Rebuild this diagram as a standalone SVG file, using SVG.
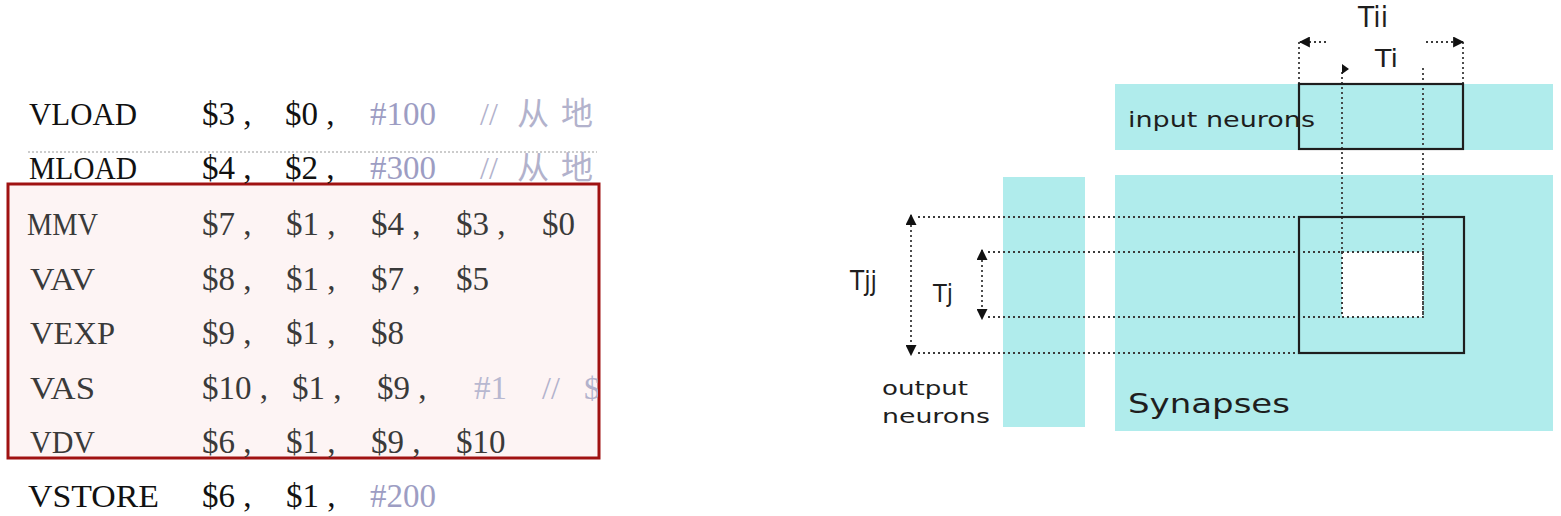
<svg xmlns="http://www.w3.org/2000/svg" width="1561" height="516" viewBox="0 0 1561 516">
<style>
.mn{font-family:"Liberation Serif",serif;font-size:32px;fill:#111}
.mnb{font-family:"Liberation Serif",serif;font-size:32px;fill:#3a3a3a}
.op{font-family:"Liberation Serif",serif;font-size:33px;fill:#111}
.opb{font-family:"Liberation Serif",serif;font-size:33px;fill:#3a3a3a}
.imm{font-family:"Liberation Serif",serif;font-size:33px;fill:#9d9dc3}
.cm{font-family:"Liberation Serif","Noto Sans CJK SC",serif;font-size:32px;fill:#b2b2cc}
.lbl{font-family:"DejaVu Sans",sans-serif;fill:#1e1e1e}
.band{fill:#b0ecec}
.dot{stroke:#3a3a3a;stroke-width:1.8;stroke-dasharray:2 3;fill:none}
.box{stroke:#1e1e1e;stroke-width:2.2;fill:none}
</style>
<defs>
<marker id="ah" viewBox="0 0 10 10" refX="9" refY="5" markerWidth="11" markerHeight="11" markerUnits="userSpaceOnUse" orient="auto-start-reverse"><path d="M0,0 L10,5 L0,10 z" fill="#111"/></marker>
<clipPath id="clipL"><rect x="0" y="0" width="598" height="516"/></clipPath>
</defs>

<rect id="highlight" x="8" y="184" width="591" height="274" fill="#fdf4f4" stroke="#a01212" stroke-width="3"/>
<g id="code" clip-path="url(#clipL)">
<line x1="28" y1="152" x2="597" y2="152" stroke="#999" stroke-width="1" stroke-dasharray="2 2"/>

<g id="row-vload">
<text class="mn" x="29" y="125" textLength="108" lengthAdjust="spacingAndGlyphs">VLOAD</text>
<text class="op" y="125"><tspan x="202">$3 ,</tspan><tspan x="285">$0 ,</tspan></text>
<text class="imm" x="370" y="125">#100</text>
<text class="cm" y="125"><tspan x="480">//</tspan><tspan x="517">从</tspan><tspan x="561">地</tspan></text>
</g>
<g id="row-mload">
<text class="mn" x="29" y="179" textLength="108" lengthAdjust="spacingAndGlyphs">MLOAD</text>
<text class="op" y="179"><tspan x="202">$4 ,</tspan><tspan x="285">$2 ,</tspan></text>
<text class="imm" x="370" y="179">#300</text>
<text class="cm" y="179"><tspan x="480">//</tspan><tspan x="517">从</tspan><tspan x="561">地</tspan></text>
</g>
<g id="row-mmv">
<text class="mnb" x="27" y="235" textLength="71" lengthAdjust="spacingAndGlyphs">MMV</text>
<text class="opb" y="235"><tspan x="202">$7 ,</tspan><tspan x="286">$1 ,</tspan><tspan x="371">$4 ,</tspan><tspan x="456">$3 ,</tspan><tspan x="542">$0</tspan></text>
</g>
<g id="row-vav">
<text class="mnb" x="30" y="290" textLength="65" lengthAdjust="spacingAndGlyphs">VAV</text>
<text class="opb" y="290"><tspan x="202">$8 ,</tspan><tspan x="286">$1 ,</tspan><tspan x="371">$7 ,</tspan><tspan x="456">$5</tspan></text>
</g>
<g id="row-vexp">
<text class="mnb" x="30" y="344" textLength="85" lengthAdjust="spacingAndGlyphs">VEXP</text>
<text class="opb" y="344"><tspan x="202">$9 ,</tspan><tspan x="286">$1 ,</tspan><tspan x="371">$8</tspan></text>
</g>
<g id="row-vas">
<text class="mnb" x="30" y="399" textLength="65" lengthAdjust="spacingAndGlyphs">VAS</text>
<text class="opb" y="399"><tspan x="202">$10 ,</tspan><tspan x="292">$1 ,</tspan><tspan x="377">$9 ,</tspan></text>
<text class="imm" x="474" y="399" style="fill:#b8b8d0">#1</text>
<text class="cm" y="399"><tspan x="542">//</tspan><tspan x="584">$</tspan></text>
</g>
<g id="row-vdv">
<text class="mnb" x="30" y="453" textLength="65" lengthAdjust="spacingAndGlyphs">VDV</text>
<text class="opb" y="453"><tspan x="202">$6 ,</tspan><tspan x="286">$1 ,</tspan><tspan x="371">$9 ,</tspan><tspan x="456">$10</tspan></text>
</g>
<g id="row-vstore">
<text class="mn" x="28" y="507" textLength="131" lengthAdjust="spacingAndGlyphs">VSTORE</text>
<text class="op" y="507"><tspan x="202">$6 ,</tspan><tspan x="286">$1 ,</tspan></text>
<text class="imm" x="370" y="507">#200</text>
</g>
</g>

<g id="input-neurons">
<rect class="band" x="1115" y="84" width="438" height="66"/>
<text class="lbl" x="1128" y="127" font-size="22" textLength="187" lengthAdjust="spacingAndGlyphs">input neurons</text>
</g>
<g id="output-neurons">
<rect class="band" x="1003" y="177" width="82" height="250"/>
<text class="lbl" x="882" y="395" font-size="20" textLength="86" lengthAdjust="spacingAndGlyphs">output</text>
<text class="lbl" x="882" y="423" font-size="20" textLength="108" lengthAdjust="spacingAndGlyphs">neurons</text>
</g>
<g id="synapses">
<rect class="band" x="1115" y="175" width="438" height="256"/>
<text class="lbl" x="1128" y="413" font-size="27" textLength="162" lengthAdjust="spacingAndGlyphs">Synapses</text>
</g>
<g id="tile-synapse">
<rect x="1342" y="252" width="81" height="65" fill="#fff"/>
</g>

<g id="connectors">
<line class="dot" x1="1342" y1="72" x2="1342" y2="317"/>
<line class="dot" x1="1423" y1="68" x2="1423" y2="317"/>
<rect class="dot" x="1342" y="252" width="81" height="65"/>
<line class="dot" x1="918" y1="217" x2="1298" y2="217"/>
<line class="dot" x1="918" y1="353" x2="1298" y2="353"/>
<line class="dot" x1="988" y1="252" x2="1342" y2="252"/>
<line class="dot" x1="988" y1="317" x2="1342" y2="317"/>
<line class="dot" x1="1299" y1="42" x2="1299" y2="84"/>
<line class="dot" x1="1463" y1="42" x2="1463" y2="84"/>
<line class="dot" x1="1326" y1="42" x2="1300" y2="42" marker-end="url(#ah)"/>
<line class="dot" x1="1426" y1="42" x2="1463" y2="42" marker-end="url(#ah)"/>
<path d="M1342,64 L1349,69 L1342,74 z" fill="#111"/>
<line class="dot" x1="911" y1="215" x2="911" y2="355" marker-start="url(#ah)" marker-end="url(#ah)"/>
<line class="dot" x1="982" y1="250" x2="982" y2="319" marker-start="url(#ah)" marker-end="url(#ah)"/>
<rect class="box" x="1299" y="84" width="164" height="65"/>
<rect class="box" x="1299" y="217" width="165" height="136"/>
</g>

<g id="labels">
<text class="lbl" x="1358" y="27" font-size="28" textLength="30" lengthAdjust="spacingAndGlyphs">Tii</text>
<text class="lbl" x="1375" y="67" font-size="25" textLength="23" lengthAdjust="spacingAndGlyphs">Ti</text>
<text class="lbl" x="850" y="290" font-size="26" textLength="27" lengthAdjust="spacingAndGlyphs">Tjj</text>
<text class="lbl" x="933" y="302" font-size="24" textLength="20" lengthAdjust="spacingAndGlyphs">Tj</text>
</g>
</svg>
